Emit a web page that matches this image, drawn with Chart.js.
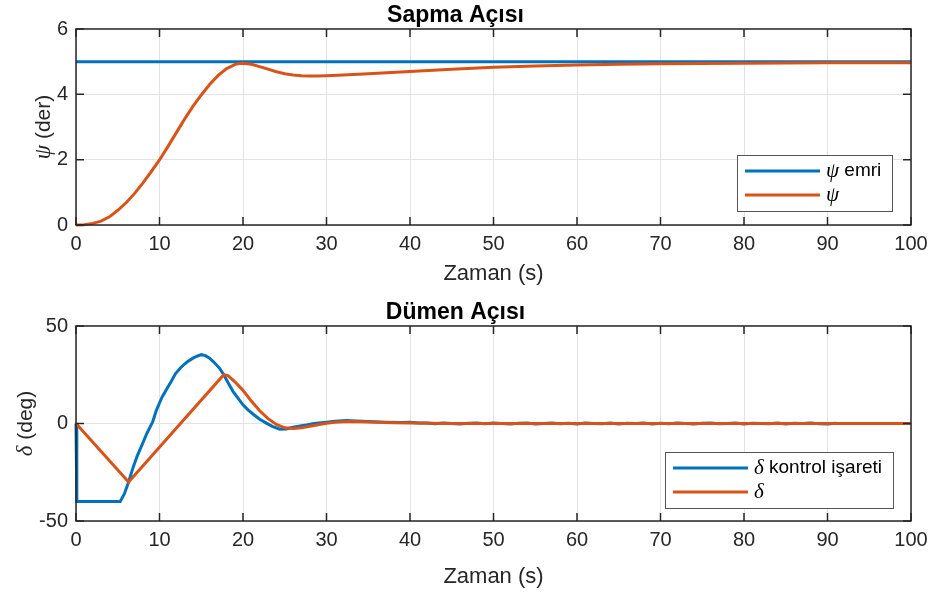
<!DOCTYPE html>
<html>
<head>
<meta charset="utf-8">
<script src="https://cdn.jsdelivr.net/npm/chart.js@4.4.0/dist/chart.umd.min.js"></script>
<style>
    html, body { margin: 0; padding: 0; background: #fff; }
    #wrap { position: relative; width: 935px; height: 594px; }
    .panel { position: absolute; left: 0; width: 935px; height: 297px; }
</style>
</head>
<body>
<div id="wrap">
    <div class="panel" style="top:0"><canvas id="yawChart" width="935" height="297"></canvas></div>
    <div class="panel" style="top:297px"><canvas id="rudderChart" width="935" height="297"></canvas></div>
</div>
<script>
// ---- Sapma açısı (yaw) ----
const yawCmdTime = [0, 100];
const yawCmd = [5, 5];

const yawTime = [0, 1, 2, 3, 4, 5, 6, 7, 8, 9, 10, 11, 12, 13, 14, 15, 16, 17, 18, 19, 19.5, 20,
    21, 22, 23, 24, 25, 26, 27, 28, 29, 30, 32, 35, 40, 45, 50, 55, 60, 65, 70, 80, 90, 100];
const yaw = [0, 0.01, 0.05, 0.12, 0.25, 0.45, 0.68, 0.96, 1.28, 1.63, 1.99, 2.4, 2.82, 3.24, 3.63, 3.98, 4.3, 4.57, 4.78, 4.91, 4.94, 4.95,
    4.92, 4.85, 4.77, 4.69, 4.63, 4.59, 4.57, 4.56, 4.56, 4.57, 4.59, 4.63, 4.70, 4.77, 4.83, 4.87, 4.90, 4.92, 4.94, 4.955, 4.965, 4.97];

// ---- Dümen açısı (rudder) ----
const rudderCmdTime = [0, 0.1, 5.3, 5.8, 6.3, 6.8, 7.3, 8, 8.5, 9.2, 9.6, 10, 10.3, 10.9, 11.4, 11.9, 12.5, 13, 13.3, 14, 14.5, 15, 15.5,
    16, 16.5, 17.2, 17.7, 18.2, 18.8, 19.4, 20, 20.6, 21.3, 22, 22.8, 23.5, 24.4, 25.2, 26, 27, 27.6, 28.5, 30, 31, 32.4, 33.5, 35,
    37, 39, 40, 41,
    42, 43, 44, 45, 46, 47, 48, 49, 50, 51, 52, 53, 54, 55, 56, 57, 58, 59, 60, 61, 62, 63, 64, 65, 66, 67, 68, 69, 70,
    71, 72, 73, 74, 75, 76, 77, 78, 79, 80, 81, 82, 83, 84, 85, 86, 87, 88, 89, 90, 91, 92, 93, 94, 95, 96, 97, 98, 99, 100];
const rudderCmd = [0, -40, -40, -36, -30, -23, -17, -10, -5, 1, 6.5, 10.5, 13.5, 18, 21.5, 25.5, 28.5, 30.5, 31.5, 33.5, 34.5, 35.3, 34.8,
    33.5, 31.5, 28.3, 25, 21, 16.5, 13, 9.6, 7, 4.5, 2.2, 0.2, -1.5, -2.9, -2.8, -1.9, -1.1, -0.8, 0, 0.7, 1.1, 1.5, 1.3, 1.0,
    0.7, 0.5, 0.6, 0.3,
    0.2, -0.1, 0.3, 0, -0.2, 0.1, 0.3, -0.1, 0.2, 0, -0.3, 0.1, 0.2, -0.2, 0, 0.3, -0.1, 0.1, -0.2, 0.2, 0, -0.1, 0.2, -0.3, 0.1,
    0, 0.2, -0.2, 0.1, -0.1, 0.3, 0, -0.2, 0.1, 0.2, -0.1, 0, 0.2, -0.3, 0.1, 0, -0.1, 0.2, -0.2, 0.1, 0, 0.2, -0.1, -0.2, 0.1];

const rudderTime = [0, 6.3, 17.7, 18.2, 19, 20, 21, 22, 23, 24, 25, 26, 27, 28, 29, 30, 31, 32, 33, 34, 36, 38, 40, 45, 50, 100];
const rudder = [0, -30, 25, 24.6, 21.5, 17, 11.5, 6.5, 2.5, -0.5, -2.2, -2.6, -2.2, -1.4, -0.6, 0.1, 0.6, 0.9, 1.0, 0.9, 0.6, 0.35, 0.2, 0.05, 0, 0];

const xTicks = [0, 10, 20, 30, 40, 50, 60, 70, 80, 90, 100];
const yawNames = ['ψ emri', 'ψ'];
const rudderNames = ['δ kontrol işareti', 'δ'];

const BLUE = '#0072BD';
const ORANGE = '#D95319';
const AXIS = '#262626';
const GRID = '#e3e3e3';
const SANS = "'Liberation Sans', Arial, sans-serif";
const SERIF = "'Liberation Serif', 'Times New Roman', serif";

function toPoints(xs, ys) {
    return xs.map((x, i) => ({ x: x, y: ys[i] }));
}

// draws a label whose first character is a greek symbol in italic serif
function drawMixed(ctx, text, x, y, size, align) {
    const sym = text.charAt(0);
    const rest = text.slice(1);
    const symFont = 'italic ' + (size + 2) + 'px ' + SERIF;
    const restFont = size + 'px ' + SANS;
    ctx.font = symFont;
    const w1 = ctx.measureText(sym).width;
    ctx.font = restFont;
    const w2 = ctx.measureText(rest).width;
    let start = x;
    if (align === 'center') start = x - (w1 + w2) / 2;
    ctx.textBaseline = 'middle';
    ctx.textAlign = 'left';
    ctx.font = symFont;
    ctx.fillText(sym, start, y);
    ctx.font = restFont;
    ctx.fillText(rest, start + w1, y);
}

const matlabAxes = {
    id: 'matlabAxes',
    afterDraw(chart, args, opts) {
        const ctx = chart.ctx;
        const a = chart.chartArea;
        const xs = chart.scales.x;
        const ys = chart.scales.y;
        ctx.save();

        // box
        ctx.strokeStyle = AXIS;
        ctx.lineWidth = 1.5;
        ctx.strokeRect(a.left, a.top, a.right - a.left, a.bottom - a.top);

        // inward tick marks
        const tl = 8;
        ctx.beginPath();
        xs.ticks.forEach(t => {
            const px = xs.getPixelForValue(t.value);
            ctx.moveTo(px, a.bottom); ctx.lineTo(px, a.bottom - tl);
            ctx.moveTo(px, a.top); ctx.lineTo(px, a.top + tl);
        });
        ys.ticks.forEach(t => {
            const py = ys.getPixelForValue(t.value);
            ctx.moveTo(a.left, py); ctx.lineTo(a.left + tl, py);
            ctx.moveTo(a.right, py); ctx.lineTo(a.right - tl, py);
        });
        ctx.stroke();

        // y axis title
        ctx.fillStyle = AXIS;
        ctx.save();
        ctx.translate(opts.yTitleX, (a.top + a.bottom) / 2);
        ctx.rotate(-Math.PI / 2);
        drawMixed(ctx, opts.yTitle, 0, 0, 21, 'center');
        ctx.restore();

        // legend box
        const lb = opts.legend;
        const bx = a.right - lb.right - lb.w;
        const by = a.bottom - lb.bottom - lb.h;
        ctx.fillStyle = '#fff';
        ctx.fillRect(bx, by, lb.w, lb.h);
        ctx.strokeStyle = '#555';
        ctx.lineWidth = 1;
        ctx.strokeRect(bx + 0.5, by + 0.5, lb.w, lb.h);
        chart.data.datasets.forEach((ds, i) => {
            const ry = by + 16 + i * 24;
            ctx.strokeStyle = ds.borderColor;
            ctx.lineWidth = 3;
            ctx.beginPath();
            ctx.moveTo(bx + 8, ry);
            ctx.lineTo(bx + 83, ry);
            ctx.stroke();
            ctx.fillStyle = '#000';
            drawMixed(ctx, ds.label, bx + 89, ry, 19, 'left');
        });
        ctx.restore();
    }
};

function makeChart(id, cfg) {
    const ctx = document.getElementById(id);
    return new Chart(ctx, {
        type: 'line',
        data: {
            datasets: cfg.series.map(s => ({
                label: s.name,
                data: toPoints(s.x, s.y),
                borderColor: s.color,
                backgroundColor: s.color,
                borderWidth: 3,
                pointRadius: 0,
                tension: 0,
                fill: false,
                clip: false,
                order: s.order
            }))
        },
        options: {
            responsive: false,
            animation: false,
            layout: { padding: { left: 0, right: 24, top: 0, bottom: 0 } },
            plugins: {
                legend: { display: false },
                tooltip: { enabled: false },
                title: {
                    display: true,
                    text: cfg.title,
                    color: '#000',
                    font: { family: SANS, size: 23, weight: 'bold' },
                    padding: { top: 1.4, bottom: 0 }
                },
                matlabAxes: { yTitle: cfg.yTitle, yTitleX: cfg.yTitleX, legend: cfg.legend }
            },
            scales: {
                x: {
                    type: 'linear',
                    min: 0,
                    max: 100,
                    afterBuildTicks: s => { s.ticks = xTicks.map(v => ({ value: v })); },
                    ticks: { color: AXIS, font: { family: SANS, size: 20 }, padding: 7, maxRotation: 0 },
                    grid: { color: GRID, drawTicks: false },
                    border: { display: false },
                    title: {
                        display: true,
                        text: 'Zaman (s)',
                        color: AXIS,
                        font: { family: SANS, size: 22 },
                        padding: { top: 0, bottom: cfg.xTitlePad }
                    },
                    afterFit: s => { s.height = cfg.xHeight; }
                },
                y: {
                    min: cfg.yMin,
                    max: cfg.yMax,
                    ticks: { stepSize: cfg.yStep, color: AXIS, font: { family: SANS, size: 20 }, padding: 8 },
                    grid: { color: GRID, drawTicks: false },
                    border: { display: false },
                    afterFit: s => { s.width = 76; }
                }
            }
        },
        plugins: [matlabAxes]
    });
}

makeChart('yawChart', {
    title: 'Sapma Açısı',
    yTitle: 'ψ (der)',
    yTitleX: 44,
    yMin: 0, yMax: 6, yStep: 2,
    xHeight: 72,
    xTitlePad: 10,
    legend: { w: 155, h: 56, right: 19, bottom: 14 },
    series: [
        { name: yawNames[0], x: yawCmdTime, y: yawCmd, color: BLUE, order: 2 },
        { name: yawNames[1], x: yawTime, y: yaw, color: ORANGE, order: 1 }
    ]
});

makeChart('rudderChart', {
    title: 'Dümen Açısı',
    yTitle: 'δ (deg)',
    yTitleX: 26,
    yMin: -50, yMax: 50, yStep: 50,
    xHeight: 73,
    xTitlePad: 4,
    legend: { w: 228, h: 56, right: 18, bottom: 13 },
    series: [
        { name: rudderNames[0], x: rudderCmdTime, y: rudderCmd, color: BLUE, order: 2 },
        { name: rudderNames[1], x: rudderTime, y: rudder, color: ORANGE, order: 1 }
    ]
});
</script>
</body>
</html>
